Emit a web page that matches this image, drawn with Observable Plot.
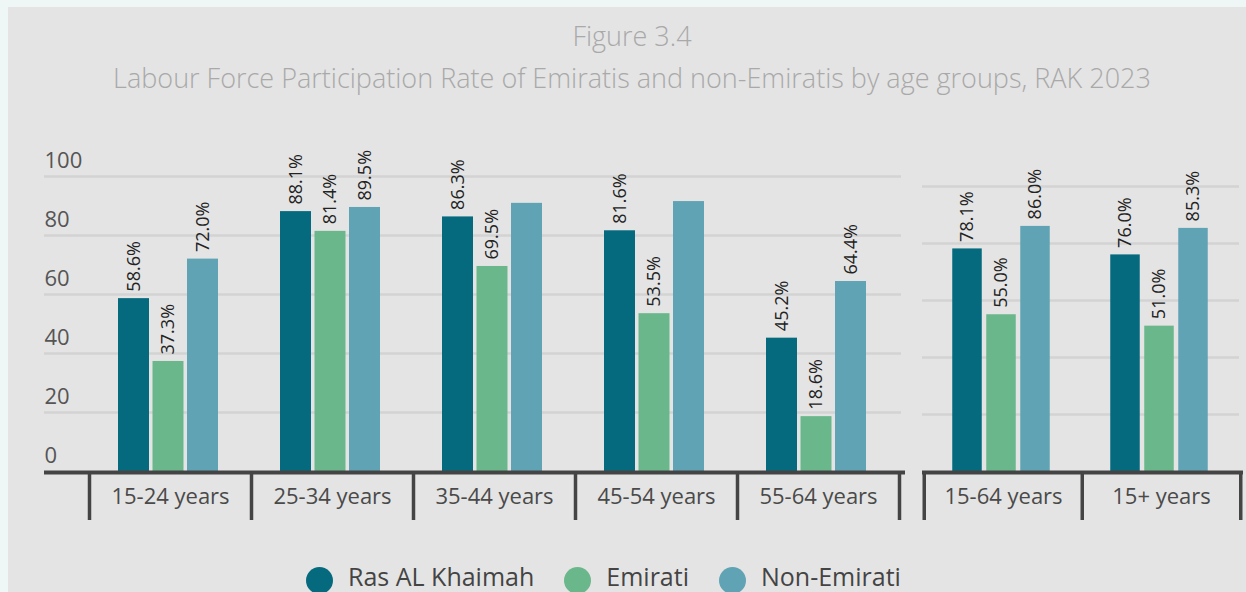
<!DOCTYPE html>
<html>
<head>
<meta charset="utf-8">
<script src="https://cdn.jsdelivr.net/npm/d3@7"></script>
<script src="https://cdn.jsdelivr.net/npm/@observablehq/plot@0.6"></script>
<style>
  html, body { margin: 0; padding: 0; }
  body { width: 1246px; height: 592px; overflow: hidden; background: #eef6f6; position: relative; font-family: "Open Sans", sans-serif; }
  #panel { position: absolute; left: 8px; top: 7px; right: 0; bottom: 0; background: #e4e4e4; }
  .title { position: absolute; left: 0; width: 1264px; text-align: center; color: #a9a9a9; font-weight: 300; white-space: nowrap; font-size: 27px; line-height: 30px; }
  #t1 { top: 21px; }
  #t2 { top: 63px; }
  #left { position: absolute; left: 0; top: 140px; }
  #right { position: absolute; left: 910px; top: 140px; }
  #legend { position: absolute; left: 306px; top: 563px; display: flex; align-items: center; color: #444; font-size: 25px; line-height: 26px; height: 26px; white-space: nowrap; }
  #legend .item { display: flex; align-items: center; margin-right: 30px; }
  #legend .dot { width: 27px; height: 27px; border-radius: 50%; margin-right: 15px; position: relative; top: 4px; }
</style>
</head>
<body>
<div id="panel"></div>
<div class="title" id="t1">Figure 3.4</div>
<div class="title" id="t2">Labour Force Participation Rate of Emiratis and non-Emiratis by age groups, RAK 2023</div>
<div id="left"></div>
<div id="right"></div>
<div id="legend"></div>
<script>
// ---- data ----
const categoriesMain = ["15-24 years", "25-34 years", "35-44 years", "45-54 years", "55-64 years"];
const categoriesSummary = ["15-64 years", "15+ years"];
const seriesNames = ["Ras AL Khaimah", "Emirati", "Non-Emirati"];
const seriesColors = ["#066a7f", "#6bb78c", "#60a3b4"];
const valuesRAK = [58.6, 88.1, 86.3, 81.6, 45.2, 78.1, 76.0];
const valuesEmirati = [37.3, 81.4, 69.5, 53.5, 18.6, 55.0, 51.0];
const valuesNonEmirati = [72.0, 89.5, 90.9, 91.5, 64.4, 86.0, 85.3];
const hiddenLabels = [["35-44 years", "Non-Emirati"], ["45-54 years", "Non-Emirati"]];
const yTicks = [0, 20, 40, 60, 80, 100];

const allCategories = categoriesMain.concat(categoriesSummary);
const seriesValues = [valuesRAK, valuesEmirati, valuesNonEmirati];
const table = [];
seriesNames.forEach((s, si) => {
  allCategories.forEach((c, ci) => {
    const hidden = hiddenLabels.some(([hc, hs]) => hc === c && hs === s);
    table.push({category: c, series: s, value: seriesValues[si][ci], showLabel: !hidden});
  });
});

function panel({categories, width, marginLeft, marginRight, marginTop, height, marginBottom, barWidth, step, gridInsetLeft, gridInsetRight, axisInsetLeft, axisInsetRight, showTicks}) {
  const data = table.filter(d => categories.includes(d.category));
  const bw = (width - marginLeft - marginRight) / categories.length;
  const marks = [];
  // gridlines
  marks.push(Plot.ruleY(yTicks.filter(t => t > 0), {y: d => d, stroke: "#d3d3d3", strokeWidth: 2.5, insetLeft: gridInsetLeft, insetRight: gridInsetRight}));
  if (showTicks) {
    marks.push(Plot.text(yTicks, {y: d => d, text: d => String(d), frameAnchor: "left", textAnchor: "start", lineAnchor: "middle", dx: gridInsetLeft, dy: -16, fontSize: 22, fill: "#555"}));
  }
  seriesNames.forEach((s, si) => {
    const c = -2 + (si - 1) * step;
    const sd = data.filter(d => d.series === s);
    marks.push(Plot.barY(sd, {x: "category", y: "value", fill: seriesColors[si],
      insetLeft: bw / 2 + c - barWidth / 2, insetRight: bw / 2 - c - barWidth / 2}));
    marks.push(Plot.text(sd.filter(d => d.showLabel), {x: "category", y: "value", text: d => d.value.toFixed(1) + "%",
      rotate: -90, textAnchor: "start", dx: c, dy: -7, fontSize: 18, fill: "#222"}));
  });
  // baseline axis
  marks.push(Plot.ruleY([0], {stroke: "#444", strokeWidth: 4, insetLeft: axisInsetLeft, insetRight: axisInsetRight, dy: 1}));
  // category dividers
  marks.push(Plot.ruleX(categories, {x: d => d, y1: 0, y2: 0, dx: -bw / 2, insetBottom: -49, stroke: "#444", strokeWidth: 3.5}));
  marks.push(Plot.ruleX([categories[categories.length - 1]], {x: d => d, y1: 0, y2: 0, dx: bw / 2, insetBottom: -49, stroke: "#444", strokeWidth: 3.5}));
  // category labels
  marks.push(Plot.text(categories, {x: d => d, text: d => d, frameAnchor: "bottom", lineAnchor: "middle", dy: 25, fontSize: 22, fill: "#4a4a4a"}));
  return Plot.plot({
    width, height, marginLeft, marginRight, marginTop, marginBottom,
    x: {type: "band", domain: categories, padding: 0, axis: null},
    y: {domain: [0, 100], axis: null},
    style: {background: "transparent", fontFamily: "Open Sans, sans-serif", overflow: "visible"},
    marks
  });
}

document.getElementById("left").append(panel({
  categories: categoriesMain, width: 909, marginLeft: 89, marginRight: 10, marginTop: 36, height: 390, marginBottom: 59,
  barWidth: 31, step: 34.5, gridInsetLeft: -45, gridInsetRight: -2, axisInsetLeft: -45, axisInsetRight: -6, showTicks: true
}));
document.getElementById("right").append(panel({
  categories: categoriesSummary, width: 336, marginLeft: 13, marginRight: 6, marginTop: 46, height: 390, marginBottom: 59,
  barWidth: 30, step: 34, gridInsetLeft: -1, gridInsetRight: 1, axisInsetLeft: -1, axisInsetRight: -3, showTicks: false
}));

// legend
const legend = document.getElementById("legend");
seriesNames.forEach((s, i) => {
  const item = document.createElement("div");
  item.className = "item";
  const dot = document.createElement("span");
  dot.className = "dot";
  dot.style.background = seriesColors[i];
  const label = document.createElement("span");
  label.textContent = s;
  item.append(dot, label);
  legend.append(item);
});
</script>
</body>
</html>
